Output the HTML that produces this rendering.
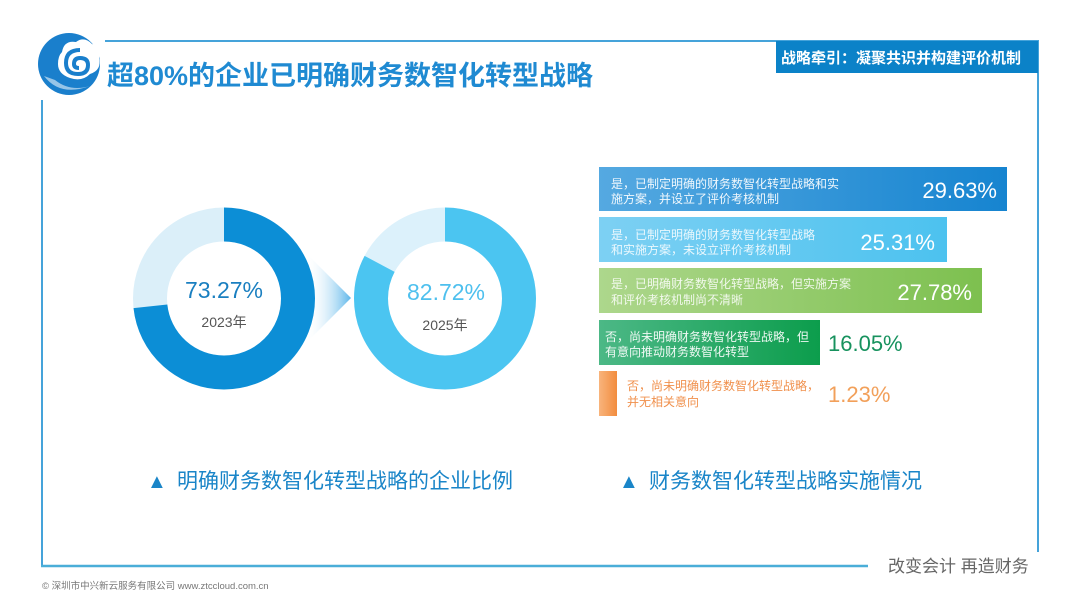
<!DOCTYPE html>
<html>
<head>
<meta charset="utf-8">
<style>
html,body{margin:0;padding:0;background:#fff;}
svg{display:block;}
text{font-family:"Liberation Sans","Noto Sans CJK SC",sans-serif;}
.cjk{font-family:"Noto Sans CJK SC","Liberation Sans",sans-serif;}
</style>
</head>
<body>
<svg width="1080" height="607" viewBox="0 0 1080 607" xmlns="http://www.w3.org/2000/svg">
<defs>
  <linearGradient id="arrowG" x1="0" y1="0" x2="1" y2="0">
    <stop offset="0" stop-color="#ffffff" stop-opacity="0"/>
    <stop offset="1" stop-color="#5db6ea"/>
  </linearGradient>
  <linearGradient id="b1" x1="0" y1="0" x2="1" y2="0">
    <stop offset="0" stop-color="#55a9e1"/>
    <stop offset="1" stop-color="#1684d0"/>
  </linearGradient>
  <linearGradient id="b2" x1="0" y1="0" x2="1" y2="0">
    <stop offset="0" stop-color="#7dd0f3"/>
    <stop offset="1" stop-color="#4cc2ef"/>
  </linearGradient>
  <linearGradient id="b3" x1="0" y1="0" x2="1" y2="0">
    <stop offset="0" stop-color="#add78c"/>
    <stop offset="1" stop-color="#7dc04f"/>
  </linearGradient>
  <linearGradient id="b4" x1="0" y1="0" x2="1" y2="0">
    <stop offset="0" stop-color="#4cb886"/>
    <stop offset="1" stop-color="#0c9d4c"/>
  </linearGradient>
  <linearGradient id="b5" x1="0" y1="0" x2="1" y2="0">
    <stop offset="0" stop-color="#f8b47c"/>
    <stop offset="1" stop-color="#f28c3e"/>
  </linearGradient>
</defs>

<!-- frame -->
<line x1="105" y1="41" x2="1039" y2="41" stroke="#45a3da" stroke-width="2"/>
<line x1="1038" y1="41" x2="1038" y2="552" stroke="#45a3da" stroke-width="2"/>
<line x1="42" y1="100" x2="42" y2="567" stroke="#45a3da" stroke-width="2"/>
<line x1="41" y1="566" x2="868" y2="566" stroke="#4aaed8" stroke-width="2.5"/>

<!-- logo -->
<circle cx="69" cy="64" r="31" fill="#1a7fcc"/>
<path d="M44 76 Q60 97 90 86 Q70 92 55 80 Z" fill="#ffffff" opacity="0.55"/>
<path d="M62 52 Q64 40 76 42 Q84 36 92 44 Q101 46 99 58 Q102 70 90 74 Q82 82 70 78 Q58 74 58 64 Q58 56 62 52 Z" fill="#ffffff"/>
<path d="M80 50 Q66 50 66 63 Q66 74 78 74 Q88 74 88 65 Q88 58 80 58 Q74 58 74 64 Q74 68 79 68" fill="none" stroke="#1a7fcc" stroke-width="4"/>

<!-- title -->
<text x="107" y="85" font-size="27" font-weight="bold" fill="#1f8ad2">超80%的企业已明确财务数智化转型战略</text>

<!-- badge -->
<rect x="776" y="41" width="262" height="32" fill="#0b82c8"/>
<text x="781" y="63" font-size="15" font-weight="bold" fill="#ffffff">战略牵引：凝聚共识并构建评价机制</text>

<!-- arrow -->
<polygon points="306,253 351,298 306,343" fill="url(#arrowG)"/>

<!-- left donut -->
<circle cx="224" cy="298.5" r="74" fill="none" stroke="#dbeff9" stroke-width="34"/>
<circle cx="224" cy="298.5" r="74" fill="none" stroke="#0c8ed6" stroke-width="34"
  stroke-dasharray="340.7 1000" transform="rotate(-90 224 298.5)"/>
<text x="224" y="298" font-size="23" fill="#1a7fc0" text-anchor="middle">73.27%</text>
<text x="224" y="327" font-size="14" fill="#555" text-anchor="middle">2023年</text>

<!-- right donut -->
<circle cx="445" cy="298.5" r="74" fill="none" stroke="#dcf1fb" stroke-width="34"/>
<circle cx="445" cy="298.5" r="74" fill="none" stroke="#4bc5f1" stroke-width="34"
  stroke-dasharray="384.6 1000" transform="rotate(-90 445 298.5)"/>
<text x="446" y="300" font-size="23" fill="#4ec0ee" text-anchor="middle">82.72%</text>
<text x="445" y="330" font-size="14" fill="#555" text-anchor="middle">2025年</text>

<!-- bars -->
<rect x="599" y="167" width="408" height="44" fill="url(#b1)"/>
<text class="cjk" x="611" y="188" font-size="12" fill="#ffffff" fill-opacity="0.92">是，已制定明确的财务数智化转型战略和实</text>
<text class="cjk" x="611" y="203" font-size="12" fill="#ffffff" fill-opacity="0.92">施方案，并设立了评价考核机制</text>
<text x="997" y="198" font-size="22" fill="#ffffff" text-anchor="end">29.63%</text>

<rect x="599" y="217" width="348" height="45" fill="url(#b2)"/>
<text class="cjk" x="611" y="239" font-size="12" fill="#ffffff" fill-opacity="0.85">是，已制定明确的财务数智化转型战略</text>
<text class="cjk" x="611" y="254" font-size="12" fill="#ffffff" fill-opacity="0.85">和实施方案，未设立评价考核机制</text>
<text x="935" y="250" font-size="22" fill="#ffffff" text-anchor="end">25.31%</text>

<rect x="599" y="268" width="383" height="45" fill="url(#b3)"/>
<text class="cjk" x="611" y="288" font-size="12" fill="#ffffff" fill-opacity="0.85">是，已明确财务数智化转型战略，但实施方案</text>
<text class="cjk" x="611" y="304" font-size="12" fill="#ffffff" fill-opacity="0.85">和评价考核机制尚不清晰</text>
<text x="972" y="300" font-size="22" fill="#ffffff" text-anchor="end">27.78%</text>

<rect x="599" y="320" width="221" height="45" fill="url(#b4)"/>
<text class="cjk" x="605" y="341" font-size="12" fill="#ffffff" fill-opacity="0.92">否，尚未明确财务数智化转型战略，但</text>
<text class="cjk" x="605" y="356" font-size="12" fill="#ffffff" fill-opacity="0.92">有意向推动财务数智化转型</text>
<text x="828" y="351" font-size="22" fill="#17925e">16.05%</text>

<rect x="599" y="371" width="18" height="45" fill="url(#b5)"/>
<text class="cjk" x="627" y="390" font-size="12" fill="#f0904c">否，尚未明确财务数智化转型战略，</text>
<text class="cjk" x="627" y="406" font-size="12" fill="#f0904c">并无相关意向</text>
<text x="828" y="402" font-size="22" fill="#f2a05a">1.23%</text>

<!-- captions -->
<text x="147" y="488" font-size="20" fill="#1a85c8">▲</text>
<text x="177" y="488" font-size="21" fill="#1a85c8">明确财务数智化转型战略的企业比例</text>
<text x="619" y="488" font-size="20" fill="#1a85c8">▲</text>
<text x="649" y="488" font-size="21" fill="#1a85c8">财务数智化转型战略实施情况</text>

<!-- footer -->
<text x="888" y="572" font-size="17" fill="#666">改变会计 再造财务</text>
<text x="42" y="589" font-size="9.5" fill="#777">© 深圳市中兴新云服务有限公司  www.ztccloud.com.cn</text>
</svg>
</body>
</html>
